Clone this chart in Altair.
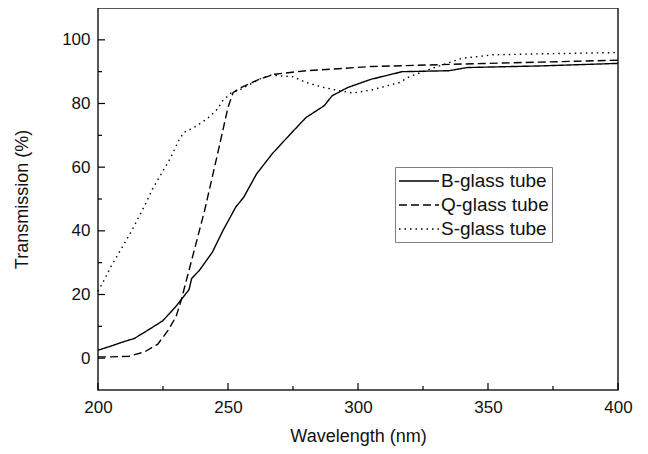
import altair as alt
import pandas as pd

# ---- data ----
b_x = [200, 205, 210, 214, 220, 225, 230, 235, 236, 239, 244, 248, 253, 256, 261, 267,
       274, 280, 287, 290, 296, 305, 317, 335, 342, 370, 400]
b_y = [2.5, 3.8, 5.2, 6.2, 9.2, 11.8, 16.3, 21.5, 25, 27.6, 33.3, 40, 47.5, 50.5, 57.9, 64.2,
       70.4, 75.6, 79.3, 82.4, 85, 87.6, 90, 90.3, 91.3, 91.8, 92.6]

q_x = [200, 205, 212, 218, 223, 227, 230, 232, 234, 236, 241, 246, 250, 252, 255, 262,
       268, 280, 305, 340, 370, 400]
q_y = [0.4, 0.4, 0.6, 2, 4.4, 8.8, 13, 18.2, 24.5, 30.7, 46.4, 64.2, 78.8, 83.5, 85, 87.6,
       89.2, 90.3, 91.6, 92.4, 93, 93.6]

s_x = [200, 202.5, 205, 208, 213, 218, 221, 224.5, 228, 231, 233, 237, 240, 243, 246, 248,
       251, 255, 258, 262, 266, 270, 275, 280, 287, 293, 298, 305, 316, 320, 324, 333, 340,
       352, 370, 400]
s_y = [21, 24.7, 28.8, 33, 40.1, 48, 53.2, 58.1, 63.1, 68.3, 70.9, 72.5, 74.1, 75.9, 78.3,
       80.9, 83.2, 84.5, 85.8, 87.6, 88.9, 88.7, 88.4, 86.6, 85, 84, 83.3, 84.2, 86.6, 88.5,
       89.7, 92.3, 94.2, 95.3, 95.6, 96]

series_names = ["B-glass tube", "Q-glass tube", "S-glass tube"]

x_major = [200, 250, 300, 350, 400]
x_minor = [225, 275, 325, 375]
y_major = [0, 20, 40, 60, 80, 100]
y_minor = [10, 30, 50, 70, 90]

rows = []
for name, xs, ys in zip(series_names, [b_x, q_x, s_x], [b_y, q_y, s_y]):
    for i, (xv, yv) in enumerate(zip(xs, ys)):
        rows.append({"wl": xv, "T": yv, "series": name, "order": i})
df = pd.DataFrame(rows)

FONT = "Liberation Sans"
W, H = 520, 382

xscale = alt.Scale(domain=[200, 400], nice=False, zero=False)
yscale = alt.Scale(domain=[-10, 110], nice=False, zero=False)

lines = alt.Chart(df).mark_line(color="black", strokeWidth=1.4).encode(
    x=alt.X("wl:Q", scale=xscale,
            axis=alt.Axis(title="Wavelength (nm)", values=x_major, ticks=False, domain=False,
                          grid=False, labelFlush=False, labelFontSize=17, labelFont=FONT,
                          labelColor="#111", labelPadding=9, titleFontSize=18, titleFont=FONT,
                          titleFontWeight="normal", titleColor="#111", titlePadding=12)),
    y=alt.Y("T:Q", scale=yscale,
            axis=alt.Axis(title="Transmission (%)", values=y_major, ticks=False, domain=False,
                          grid=False, labelFlush=False, labelFontSize=17, labelFont=FONT,
                          labelColor="#111", labelPadding=8, titleFontSize=18, titleFont=FONT,
                          titleFontWeight="normal", titleColor="#111", titlePadding=30)),
    strokeDash=alt.StrokeDash(
        "series:N",
        scale=alt.Scale(domain=series_names, range=[[1, 0], [8, 4], [1.5, 4]]),
        legend=alt.Legend(title=None, orient="none", legendX=297, legendY=159,
                          symbolType="M-2,0H2", symbolStrokeColor="black",
                          symbolFillColor="transparent", symbolOffset=10,
                          symbolStrokeWidth=1.4, symbolSize=400,
                          labelFontSize=19, labelFont=FONT, labelColor="#111",
                          labelOffset=11, rowPadding=3, padding=3,
                          strokeColor="#808080")),
    order="order:Q",
)

xt_major = pd.DataFrame({"wl": x_major})
xt_minor = pd.DataFrame({"wl": x_minor})
yt_major = pd.DataFrame({"T": y_major})
yt_minor = pd.DataFrame({"T": y_minor})

def xticks(data, length):
    return alt.Chart(data).mark_rule(color="black", strokeWidth=1.2).encode(
        x=alt.X("wl:Q", scale=xscale),
        y=alt.value(H), y2=alt.value(H - length))

def yticks(data, length):
    return alt.Chart(data).mark_rule(color="black", strokeWidth=1.2).encode(
        y=alt.Y("T:Q", scale=yscale),
        x=alt.value(0), x2=alt.value(length))

chart = alt.layer(
    lines,
    xticks(xt_major, 7), xticks(xt_minor, 4),
    yticks(yt_major, 7), yticks(yt_minor, 4),
).properties(
    width=W, height=H,
    autosize=alt.AutoSizeParams(type="none"),
    padding={"left": 90, "top": 0, "right": 22, "bottom": 56},
).configure(
    background="white",
    view=alt.ViewConfig(stroke="#222", strokeWidth=1.5),
)

chart.save("out.html", embed_options={"renderer": "svg", "actions": False})
